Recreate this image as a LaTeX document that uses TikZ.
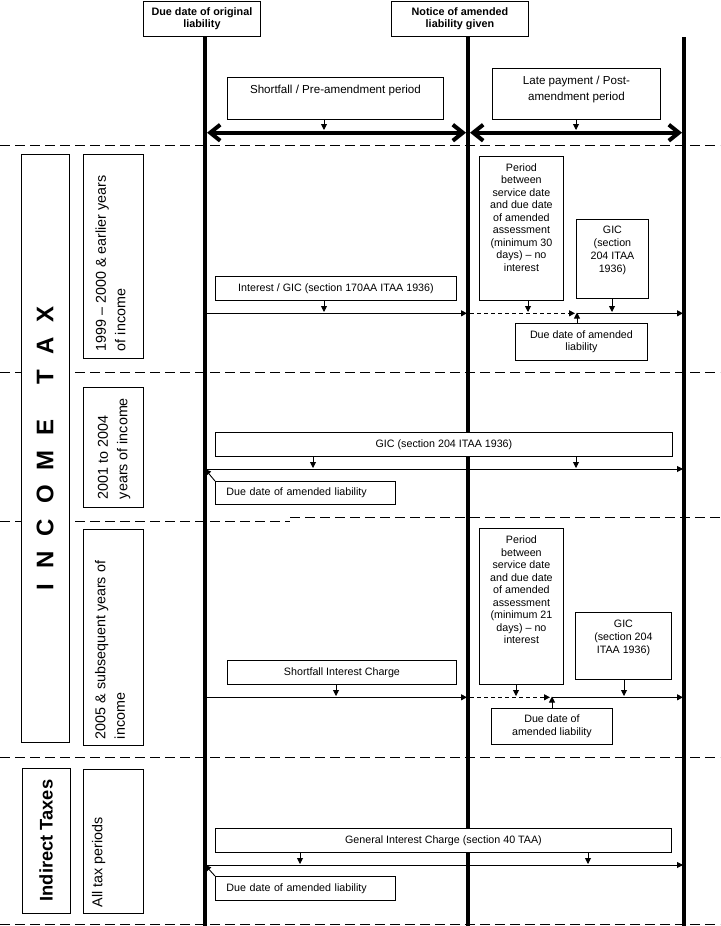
\documentclass[tikz,border=0pt]{standalone}
\usepackage{fontspec}
\setmainfont{Liberation Sans}
\usetikzlibrary{arrows.meta,calc}
\newcommand\fs{\fontsize{10.7}{12.5}\selectfont}
\newcommand\hdr{\fontsize{10.8}{12}\selectfont\bfseries}
\newcommand\fm{\fontsize{11.6}{16}\selectfont}
% top-aligned centred box content: width, height, top pad, text
\newcommand\tbx[4]{\parbox[c][#2pt][t]{#1pt}{\vspace*{#3pt}\centering #4}}
% rotated year label content: length, thickness, top pad, left inset, text
\newcommand\rbx[5]{\parbox[c][#2pt][t]{#1pt}{\vspace*{#3pt}\raggedright\leftskip=#4pt\relax\fontsize{14.3}{19.5}\selectfont #5}}
\tikzset{
  box/.style={draw, line width=0.9pt, fill=white, inner sep=0pt, anchor=north west},
  cbox/.style={box, align=center, font=\fs},
  rbox/.style={box, anchor=center, rotate=90},
  vline/.style={line width=3.3pt},
  divider/.style={line width=0.9pt, dash pattern=on 10pt off 5pt},
  bigarrow/.style={line width=4pt, {Straight Barb[length=10pt,width=16pt]}-{Straight Barb[length=10pt,width=16pt]}},
  tl/.style={line width=0.9pt, -{Triangle[length=6pt,width=6pt]}},
  tldash/.style={tl, dash pattern=on 4pt off 3pt},
  pointer/.style={line width=0.9pt, -{Triangle[length=6pt,width=6pt]}},
}
\begin{document}
\begin{tikzpicture}[x=1pt,y=-1pt]
\useasboundingbox (0,0) rectangle (720,926);

% band dividers
\draw[divider] (0,145) -- (720,145);
\draw[divider] (0,372) -- (720,372);
\draw[divider] (0,521) -- (290,521);
\draw[divider] (290,517) -- (720,517);
\draw[divider] (0,757) -- (720,757);
\draw[divider] (0,924) -- (720,924);

% time lines
\draw[vline] (205,36) -- (205,926);
\draw[vline] (468,36) -- (468,926);
\draw[vline] (684,37) -- (684,926);

% headers
\node[box, align=center, font=\hdr, minimum width=117pt, minimum height=35.5pt] (h1) at (143,0.5) {Due date of original\\liability};
\node[box, align=center, font=\hdr, minimum width=137pt, minimum height=35.5pt] (h2) at (391,0.5) {Notice of amended\\liability given};

% ---------- top band ----------
\node[box] (sp) at (227,77) {\tbx{216}{42}{7.5}{\fm Shortfall / Pre-amendment period}};
\node[box] (lp) at (492,68) {\tbx{168}{51}{7.5}{\fm Late payment / Post-\\amendment period}};
\coordinate (b1) at (207,132.7);
\coordinate (b2) at (466,132.7);
\coordinate (b3) at (470,132.7);
\coordinate (b4) at (682,132.7);
\draw[bigarrow] (b1) -- (b2);
\draw[bigarrow] (b3) -- (b4);
\coordinate (s1) at (324,130);
\coordinate (s2) at (576,130);
\draw[pointer] (sp.south -| s1) -- (s1);
\draw[pointer] (lp.south -| s2) -- (s2);

% ---------- left labels ----------
\node[rbox, minimum width=588pt, minimum height=48pt] (it) at (45,448)
  {\fontsize{24}{28}\selectfont\bfseries\spaceskip=15pt\relax I N C O M E\hspace{35pt}T A X};
\node[rbox, minimum width=145pt, minimum height=48pt] (ind) at (46,840.5)
  {\fontsize{18.3}{20}\selectfont\bfseries Indirect Taxes};
\node[rbox] (y1) at (113,256) {\rbx{204}{60}{12.5}{7}{1999 – 2000 \& earlier years\\of income}};
\node[rbox] (y2) at (113,447) {\rbx{120}{60}{15}{8}{2001 to 2004\\years of income}};
\node[rbox] (y3) at (113,637) {\rbx{216}{60}{12}{6}{2005 \& subsequent years of\\income}};
\node[rbox] (y4) at (113,841) {\rbx{144}{60}{9}{6}{All tax periods}};

% ---------- band 1 ----------
\node[box] (per1) at (479,156) {\tbx{84}{144}{6.8}{\fs Period\\between\\service date\\and due date\\of amended\\assessment\\(minimum 30\\days) – no\\interest}};
\node[box] (gic1) at (576,219) {\tbx{72}{79}{7}{\fontsize{10.7}{13}\selectfont GIC\\(section\\204 ITAA\\1936)}};
\node[cbox, minimum width=241pt, minimum height=24pt] (int1) at (215,276) {Interest / GIC (section 170AA ITAA 1936)};
\node[cbox, minimum width=132pt, minimum height=37pt] (due1) at (515,323) {Due date of amended\\liability};
\coordinate (t1a) at (205,313.3);
\coordinate (t1b) at (467,313.3);
\coordinate (t1c) at (470,313.3);
\coordinate (t1d) at (575,313.3);
\coordinate (t1e) at (577,313.3);
\coordinate (t1f) at (683,313.3);
\draw[tl] (t1a) -- (t1b);
\draw[tldash] (t1c) -- (t1d);
\draw[tl] (t1e) -- (t1f);
\coordinate (a11) at (324,312);
\coordinate (a12) at (528,312);
\coordinate (a13) at (612,312);
\coordinate (u1) at (577,312.5);
\draw[pointer] (int1.south -| a11) -- (a11);
\draw[pointer] (per1.south -| a12) -- (a12);
\draw[pointer] (gic1.south -| a13) -- (a13);
\draw[pointer] (due1.north -| u1) -- (u1);

% ---------- band 2 ----------
\node[cbox, minimum width=457pt, minimum height=24pt] (gic2) at (215,432) {GIC (section 204 ITAA 1936)};
\node[box, font=\fs, minimum height=23pt, text width=158pt, inner xsep=11pt, align=left] (due2) at (215,481) {Due date of amended liability};
\coordinate (t2a) at (205,469);
\coordinate (t2b) at (683,469);
\draw[tl] (t2a) -- (t2b);
\coordinate (a21) at (313,468);
\coordinate (a22) at (576,468);
\draw[pointer] (gic2.south -| a21) -- (a21);
\draw[pointer] (gic2.south -| a22) -- (a22);
\draw[pointer] (due2.north west) -- (t2a);

% ---------- band 3 ----------
\node[box] (per3) at (479,528) {\tbx{84}{156}{7.4}{\fs Period\\between\\service date\\and due date\\of amended\\assessment\\(minimum 21\\days) – no\\interest}};
\node[box] (gic3) at (575,612) {\tbx{96}{67}{7.4}{\fontsize{10.7}{13}\selectfont GIC\\(section 204\\ITAA 1936)}};
\node[cbox, minimum width=229pt, minimum height=24pt] (sic3) at (227,660) {Shortfall Interest Charge};
\node[cbox, minimum width=121pt, minimum height=36pt] (due3) at (491,708) {Due date of\\amended liability};
\coordinate (t3a) at (205,697.3);
\coordinate (t3b) at (467,697.3);
\coordinate (t3c) at (470,697.3);
\coordinate (t3d) at (550,697.3);
\coordinate (t3e) at (552,697.3);
\coordinate (t3f) at (683,697.3);
\draw[tl] (t3a) -- (t3b);
\draw[tldash] (t3c) -- (t3d);
\draw[tl] (t3e) -- (t3f);
\coordinate (a31) at (336,696);
\coordinate (a32) at (516,696);
\coordinate (a33) at (624,696);
\coordinate (u3) at (552,696.5);
\draw[pointer] (sic3.south -| a31) -- (a31);
\draw[pointer] (per3.south -| a32) -- (a32);
\draw[pointer] (gic3.south -| a33) -- (a33);
\draw[pointer] (due3.north -| u3) -- (u3);

% ---------- band 4 ----------
\node[cbox, minimum width=456pt, minimum height=24pt] (gic4) at (215,828) {General Interest Charge (section 40 TAA)};
\node[box, font=\fs, minimum height=24pt, text width=158pt, inner xsep=11pt, align=left] (due4) at (215,876) {Due date of amended liability};
\coordinate (t4a) at (205,865);
\coordinate (t4b) at (683,865);
\draw[tl] (t4a) -- (t4b);
\coordinate (a41) at (300,864);
\coordinate (a42) at (588,864);
\draw[pointer] (gic4.south -| a41) -- (a41);
\draw[pointer] (gic4.south -| a42) -- (a42);
\draw[pointer] (due4.north west) -- (t4a);
\end{tikzpicture}
\end{document}
